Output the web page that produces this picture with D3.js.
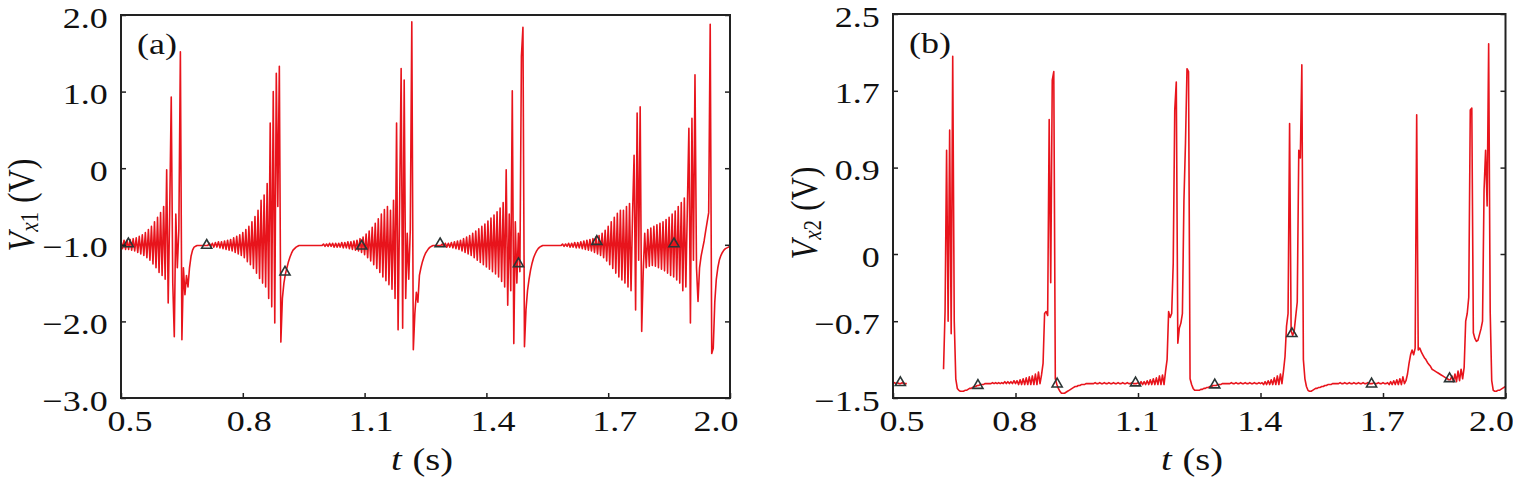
<!DOCTYPE html>
<html>
<head>
<meta charset="utf-8">
<script src="https://cdn.jsdelivr.net/npm/d3@7"></script>
<style>
body { margin: 0; background: #fff; }
svg text { font-family: "Liberation Serif", "DejaVu Serif", serif; fill: #111; }
</style>
</head>
<body>
<svg id="fig" width="1513" height="480"></svg>
<script>
// shared time window (s) and ticks
var t_start = 0.5, t_end = 2.0;
var x_ticks = [0.5, 0.8, 1.1, 1.4, 1.7, 2.0];
var y_ticks_a = [-3, -2, -1, 0, 1, 2];
var y_ticks_b = [-1.5, -0.7, 0, 0.9, 1.7, 2.5];

// V_x1, one sample every 3.75 ms from 0.5 s
var vx1_p1 = [
  -0.95,-1.05,-0.94,-1.06,-0.94,-1.06,-0.93,-1.07,-0.92,-1.08,
  -0.91,-1.1,-0.89,-1.12,-0.87,-1.14,-0.84,-1.17,-0.8,-1.2,
  -0.76,-1.25,-0.7,-1.3,-0.64,-1.36,-0.58,-1.4,-0.5,-1.45,
  -0.02,-1.76,-0.55,0.93,-1.5,-2.2,-0.6,-1.3,-0.8,1.52,
  -2.24,-1.3,-1.65,-1.4,-1.55,-1.3,-1.15,-1.07,-1.03,-1.02,
  -1.01,-1.01,-1.01,-1.01,-1.01,-1.01,-1.01,-1.01,-0.98,-1.02,
  -0.98,-1.03,-0.97,-1.03,-0.96,-1.04,-0.96,-1.05,-0.95,-1.06,
  -0.94,-1.07,-0.93,-1.08,-0.91,-1.1,-0.89,-1.12,-0.87,-1.14,
  -0.84,-1.17,-0.8,-1.22,-0.76,-1.26,-0.7,-1.31,-0.63,-1.37,
  -0.55,-1.44,-0.42,-1.5,-0.35,-1.55,-0.2,-1.7,0.59,-1.81
];
var vx1_p2 = [
  1.0,-2.02,1.24,-0.5,1.33,-2.27,-1.7,-1.5,-1.38,-1.3,
  -1.22,-1.16,-1.11,-1.07,-1.05,-1.03,-1.02,-1.01,-1.01,-1.01,
  -1.01,-1.01,-1.01,-1.01,-1.01,-1.01,-1.01,-1.01,-1.01,-1.01,
  -1.01,-1.01,-1.01,-0.99,-1.02,-0.99,-1.02,-0.98,-1.02,-0.98,
  -1.03,-0.98,-1.03,-0.98,-1.03,-0.97,-1.04,-0.97,-1.04,-0.96,
  -1.05,-0.96,-1.06,-0.95,-1.07,-0.94,-1.08,-0.92,-1.1,-0.9,
  -1.13,-0.86,-1.17,-0.82,-1.21,-0.77,-1.26,-0.72,-1.31,-0.66,
  -1.36,-0.6,-1.42,-0.54,-1.47,-0.5,-1.52,-0.55,-1.58,-0.42,
  -1.7,0.59,-2.11,-0.5,1.3,-2.09,1.15,-1.7,-0.85,-1.45,
  -0.8,1.91,-2.37,-1.9,-1.62,-1.75,-1.4,-1.3,-1.22,-1.16
];
var vx1_p3 = [
  -1.11,-1.08,-1.05,-1.03,-1.02,-1.01,-1.01,-1.01,-1.01,-1.01,
  -1.01,-0.99,-1.02,-0.98,-1.03,-0.98,-1.03,-0.97,-1.04,-0.96,
  -1.05,-0.95,-1.06,-0.94,-1.08,-0.92,-1.1,-0.9,-1.12,-0.88,
  -1.14,-0.85,-1.17,-0.82,-1.2,-0.79,-1.23,-0.76,-1.26,-0.73,
  -1.29,-0.69,-1.32,-0.65,-1.35,-0.61,-1.38,-0.57,-1.42,-0.52,
  -1.48,-0.45,-1.55,-0.02,-1.79,-0.6,-1.6,1.01,-2.29,-0.7,
  -1.5,-0.85,-1.35,1.46,1.84,-2.33,-1.85,-1.6,-1.45,-1.33,
  -1.24,-1.17,-1.12,-1.08,-1.05,-1.03,-1.02,-1.01,-1.01,-1.01,
  -1.01,-1.01,-1.01,-1.01,-1.01,-1.01,-1.01,-1.01,-1.01,-1.01,
  -0.99,-1.02,-0.99,-1.02,-0.98,-1.03,-0.98,-1.03,-0.97,-1.04
];
var vx1_p4 = [
  -0.97,-1.04,-0.96,-1.05,-0.95,-1.06,-0.94,-1.07,-0.93,-1.08,
  -0.92,-1.1,-0.9,-1.12,-0.88,-1.14,-0.85,-1.17,-0.81,-1.21,
  -0.76,-1.26,-0.7,-1.31,-0.64,-1.37,-0.59,-1.42,-0.55,-1.46,
  -0.55,-1.5,-0.5,-1.55,-0.46,-1.6,-0.6,0.17,-1.85,0.72,
  -1.2,0.8,-2.13,-1.35,-0.85,-1.3,-0.8,-1.28,-0.78,-1.27,
  -0.76,-1.28,-0.74,-1.3,-0.72,-1.32,-0.7,-1.34,-0.67,-1.37,
  -0.64,-1.4,-0.6,-1.42,-0.56,-1.46,-0.5,-1.5,-0.45,-1.6,
  -0.39,-1.55,-0.5,0.52,-2.02,0.65,-1.2,1.22,-1.3,-1.74,
  -1.3,-1.15,-1.05,-0.95,-0.82,-0.7,-0.58,1.88,-2.42,-2.35,
  -1.75,-1.45,-1.3,-1.2,-1.14,-1.1,-1.07,-1.05,-1.04,-1.03,-1.02
];

// V_x2, same sampling; null = no trace in the picture
var vx2_p1 = [
  -1.35,-1.34,-1.35,-1.34,-1.35,-1.35,-1.34,-1.35,-1.35,-1.35,
  null,null,null,null,null,null,null,null,null,null,
  null,null,null,null,null,null,null,null,null,null,
  null,null,null,-1.2,-0.6,1.08,-0.7,1.29,-0.83,2.06,
  -0.7,-1.3,-1.4,-1.42,-1.43,-1.43,-1.43,-1.42,-1.42,-1.41,
  -1.4,-1.4,-1.39,-1.38,-1.38,-1.37,-1.37,-1.36,-1.36,-1.36,
  -1.35,-1.35,-1.35,-1.35,-1.35,-1.34,-1.35,-1.34,-1.35,-1.34,
  -1.35,-1.34,-1.35,-1.33,-1.35,-1.33,-1.35,-1.33,-1.35,-1.32,
  -1.35,-1.32,-1.36,-1.31,-1.36,-1.3,-1.36,-1.29,-1.36,-1.28,
  -1.36,-1.27,-1.36,-1.25,-1.36,-1.23,-1.35,-1.26,-1.14,-0.62
];
var vx2_p2 = [
  -0.6,-0.64,1.4,-0.3,1.81,1.9,-1.3,-1.36,-1.4,-1.43,
  -1.45,-1.45,-1.45,-1.44,-1.43,-1.42,-1.41,-1.4,-1.39,-1.38,
  -1.38,-1.37,-1.37,-1.36,-1.36,-1.36,-1.35,-1.35,-1.35,-1.35,
  -1.35,-1.35,-1.34,-1.35,-1.35,-1.34,-1.35,-1.35,-1.34,-1.35,
  -1.35,-1.34,-1.35,-1.35,-1.34,-1.35,-1.35,-1.34,-1.35,-1.35,
  -1.34,-1.35,-1.35,-1.34,-1.35,-1.35,-1.34,-1.35,-1.35,-1.35,
  -1.34,-1.36,-1.33,-1.36,-1.33,-1.36,-1.32,-1.36,-1.31,-1.36,
  -1.3,-1.36,-1.29,-1.36,-1.27,-1.36,-1.26,-1.36,-1.22,-1.1,
  -0.6,-0.66,-0.62,-0.1,1.5,1.79,-0.93,-0.77,-0.72,-0.62,
  0.56,1.15,1.93,1.9,-1.3,-1.36,-1.4,-1.42,-1.42,-1.42
];
var vx2_p3 = [
  -1.42,-1.41,-1.41,-1.4,-1.4,-1.39,-1.39,-1.38,-1.38,-1.37,
  -1.37,-1.37,-1.36,-1.36,-1.36,-1.35,-1.35,-1.35,-1.35,-1.35,
  -1.35,-1.34,-1.35,-1.35,-1.34,-1.35,-1.35,-1.34,-1.35,-1.35,
  -1.34,-1.35,-1.35,-1.34,-1.35,-1.35,-1.34,-1.35,-1.35,-1.34,
  -1.35,-1.34,-1.36,-1.33,-1.36,-1.32,-1.36,-1.31,-1.36,-1.29,
  -1.36,-1.27,-1.36,-1.25,-1.35,-1.22,-1.07,-0.75,-0.62,1.36,
  -0.8,-0.85,-0.8,-0.65,-0.5,1.08,1.0,1.97,-1.1,-1.3,
  -1.38,-1.42,-1.43,-1.43,-1.42,-1.41,-1.4,-1.4,-1.39,-1.39,
  -1.38,-1.38,-1.37,-1.37,-1.36,-1.36,-1.36,-1.35,-1.35,-1.35,
  -1.35,-1.35,-1.34,-1.35,-1.35,-1.34,-1.35,-1.35,-1.34,-1.35
];
var vx2_p4 = [
  -1.35,-1.34,-1.35,-1.35,-1.34,-1.35,-1.35,-1.34,-1.35,-1.35,
  -1.34,-1.35,-1.35,-1.35,-1.34,-1.35,-1.35,-1.34,-1.35,-1.35,
  -1.34,-1.35,-1.35,-1.34,-1.36,-1.33,-1.36,-1.32,-1.36,-1.31,
  -1.36,-1.3,-1.36,-1.28,-1.35,-1.32,-1.25,-1.14,-1.05,-1.0,
  -1.05,-0.98,1.45,-1.0,-0.98,-1.02,-1.05,-1.08,-1.1,-1.13,
  -1.15,-1.17,-1.2,-1.21,-1.22,-1.23,-1.24,-1.25,-1.26,-1.27,
  -1.28,-1.29,-1.3,-1.31,-1.31,-1.27,-1.33,-1.25,-1.33,-1.22,
  -1.32,-1.2,-1.3,-1.18,-0.7,-0.62,-0.45,1.5,1.52,-0.82,
  -0.88,-0.91,-0.9,-0.84,-0.78,-0.7,0.67,1.08,0.5,2.19,
  -0.6,-1.32,-1.42,-1.43,-1.43,-1.42,-1.42,-1.41,-1.4,-1.39,-1.38
];

// triangle markers (t in s, V)
var marks_a_t = [0.518, 0.711, 0.904, 1.093, 1.286, 1.479, 1.672, 1.862];
var marks_a_v = [-1.0, -1.02, -1.37, -1.03, -1.0, -1.26, -0.97, -1.0];
var marks_b_t = [0.518, 0.708, 0.902, 1.094, 1.288, 1.477, 1.672, 1.863];
var marks_b_v = [-1.35, -1.38, -1.365, -1.354, -1.375, -0.84, -1.365, -1.31];

var svg = d3.select("#fig");
svg.append("rect").attr("width", 1513).attr("height", 480).attr("fill", "#fff");

// glyphs in the source figure are drawn wider than they are tall
var stretch = 1.2;

function tick_label(v) {
    return v === 0 ? "0" : d3.format(".1f")(v);
}

function draw_panel(p) {
    var x = d3.scaleLinear().domain([t_start, t_end]).range([p.left, p.right]);
    var y = d3.scaleLinear()
        .domain([p.y_ticks[0], p.y_ticks[p.y_ticks.length - 1]])
        .range([p.bottom, p.top]);
    var g = svg.append("g");

    var dt = (t_end - t_start) / (p.values.length - 1);
    var samples = p.values.map(function(v, i) { return {t: t_start + i * dt, v: v}; });

    var trace = d3.line()
        .defined(d => d.v !== null)
        .x(d => x(d.t))
        .y(d => y(d.v));
    g.append("path")
        .datum(samples)
        .attr("d", trace)
        .attr("fill", "none")
        .attr("stroke", "#e8141c")
        .attr("stroke-width", 1.6)
        .attr("stroke-linejoin", "round");

    // triangles
    var tri = d3.symbol().type(d3.symbolTriangle).size(44);
    g.selectAll(".mark")
        .data(p.mark_t)
        .enter().append("path")
        .attr("class", "mark")
        .attr("d", tri)
        .attr("transform", (d, i) => "translate(" + x(d) + "," + (y(p.mark_v[i]) - 1) + ")")
        .attr("fill", "none")
        .attr("stroke", "#2b3535")
        .attr("stroke-width", 1.6);

    // axes, ticks point inward
    var bottom_axis = g.append("g")
        .attr("transform", "translate(0," + p.bottom + ")")
        .call(d3.axisBottom(x).tickValues(x_ticks).tickSizeInner(-5).tickSizeOuter(0)
            .tickPadding(12).tickFormat(d3.format(".1f")));
    var left_axis = g.append("g")
        .attr("transform", "translate(" + p.left + ",0)")
        .call(d3.axisLeft(y).tickValues(p.y_ticks).tickSizeInner(-5).tickSizeOuter(0)
            .tickPadding(11).tickFormat(tick_label));
    var right_axis = g.append("g")
        .attr("transform", "translate(" + p.right + ",0)")
        .call(d3.axisRight(y).tickValues(p.y_ticks).tickSizeInner(-5).tickSizeOuter(0)
            .tickFormat(""));

    [bottom_axis, left_axis, right_axis].forEach(function(a) {
        a.attr("font-family", null).attr("font-size", null);
        a.select(".domain").remove();
        a.selectAll(".tick line").attr("stroke", "#222").attr("stroke-width", 1.5);
        a.selectAll("text").attr("font-size", 30).attr("fill", "#111");
    });
    var last = x_ticks.length - 1;
    bottom_axis.selectAll("text")
        .attr("dx", (d, i) => i === 0 ? 7 : (i === last ? -12 : p.x_nudge))
        .attr("transform", "scale(" + stretch + ",1)");
    left_axis.selectAll("text")
        .attr("dy", "0.4em")
        .attr("transform", "scale(" + stretch + ",1)");

    // frame
    g.append("rect")
        .attr("x", p.left).attr("y", p.top)
        .attr("width", p.right - p.left).attr("height", p.bottom - p.top)
        .attr("fill", "none").attr("stroke", "#222").attr("stroke-width", 2);

    // panel tag
    svg.append("text")
        .attr("transform", "translate(" + (p.left + 16) + "," + (p.top + 39) + ") scale(" + stretch + ",1)")
        .attr("font-size", 30)
        .text(p.tag);

    // x label
    var xl = svg.append("text")
        .attr("transform", "translate(" + p.xlab_x + ",470) scale(" + stretch + ",1)")
        .attr("text-anchor", "middle")
        .attr("font-size", 32);
    xl.append("tspan").attr("font-style", "italic").text("t");
    xl.append("tspan").attr("dx", 9).text("(s)");

    // y label, rotated
    var yl = svg.append("text")
        .attr("transform", "translate(" + p.ylab_x + "," + p.ylab_y + ") scale(" + stretch + ",1) rotate(-90)")
        .attr("text-anchor", "middle")
        .attr("font-size", 32);
    yl.append("tspan").attr("font-style", "italic").text("V");
    yl.append("tspan").attr("font-size", 21).attr("font-style", "italic").attr("dy", 3).text("x");
    yl.append("tspan").attr("font-size", 21).text(p.sub);
    yl.append("tspan").attr("dy", -3).attr("dx", 9).text("(V)");
}

draw_panel({
    values: vx1_p1.concat(vx1_p2, vx1_p3, vx1_p4),
    mark_t: marks_a_t, mark_v: marks_a_v,
    y_ticks: y_ticks_a,
    left: 121, right: 730, top: 15, bottom: 398,
    x_nudge: 5, tag: "(a)", sub: "1",
    xlab_x: 422, ylab_x: 34, ylab_y: 205
});

draw_panel({
    values: vx2_p1.concat(vx2_p2, vx2_p3, vx2_p4),
    mark_t: marks_b_t, mark_v: marks_b_v,
    y_ticks: y_ticks_b,
    left: 893, right: 1505.5, top: 14, bottom: 398,
    x_nudge: -1, tag: "(b)", sub: "2",
    xlab_x: 1192, ylab_x: 817, ylab_y: 213
});
</script>
</body>
</html>
